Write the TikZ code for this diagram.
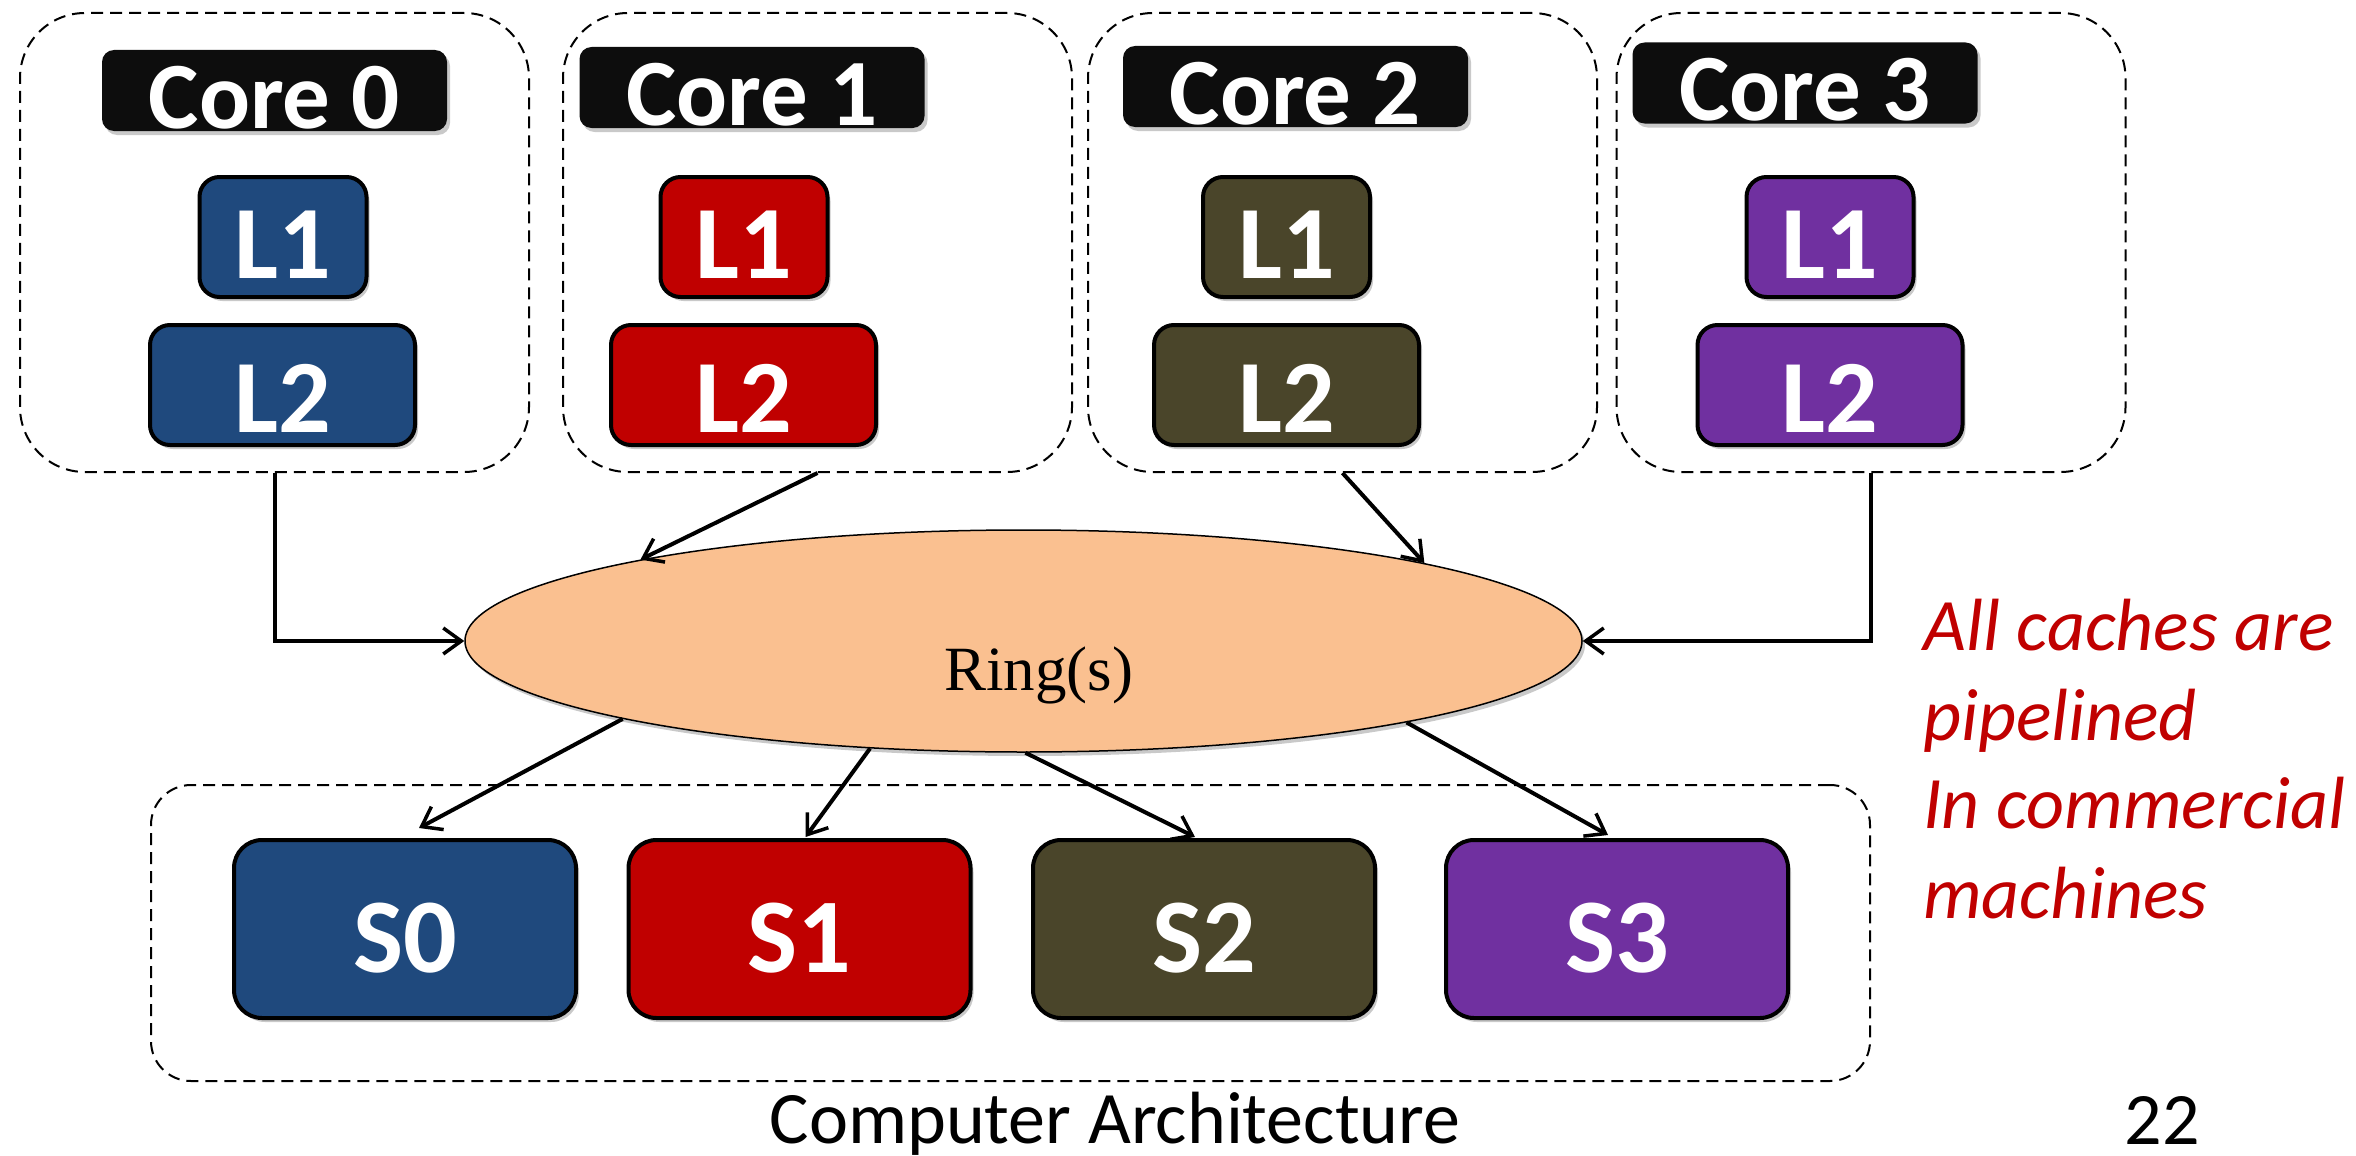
\documentclass[tikz,border=0pt]{standalone}
\usepackage{fontspec}
\setmainfont{Carlito}
\newfontfamily\ringfamily{Liberation Serif}
\usetikzlibrary{arrows.meta,shapes.geometric,shadows}
\definecolor{cblue}{HTML}{1F497D}
\definecolor{cred}{HTML}{C00000}
\definecolor{colive}{HTML}{4A452A}
\definecolor{cpurple}{HTML}{7030A0}
\definecolor{cblack}{HTML}{0D0D0D}
\definecolor{cring}{HTML}{FAC090}
\definecolor{cnote}{HTML}{C00000}
\begin{document}
\begin{tikzpicture}[x=1pt,y=-1pt,
  shad/.style={drop shadow={shadow xshift=3pt,shadow yshift=-4pt,opacity=0.3,fill=black!70}},
  corebox/.style={draw,line width=2pt,dash pattern=on 12pt off 7pt,rounded corners=65pt,
    minimum width=509pt,minimum height=459pt,inner sep=0pt},
  corelabel/.style={shad,fill=cblack,rounded corners=12pt,minimum width=345pt,minimum height=81pt,
    inner sep=0pt,text=white,font=\fontsize{95pt}{100pt}\selectfont\bfseries,
    text height=78pt,text depth=3pt},
  lonebox/.style={shad,draw=black,line width=4pt,rounded corners=20pt,minimum width=167pt,
    minimum height=120pt,inner sep=0pt,text=white,font=\fontsize{104pt}{110pt}\selectfont\bfseries,
    text height=101pt,text depth=19pt},
  ltwobox/.style={shad,draw=black,line width=4pt,rounded corners=20pt,minimum width=265pt,
    minimum height=120pt,inner sep=0pt,text=white,font=\fontsize{104pt}{110pt}\selectfont\bfseries,
    text height=107pt,text depth=13pt},
  slicebox/.style={shad,draw=black,line width=4pt,rounded corners=28pt,minimum width=342pt,
    minimum height=178pt,inner sep=0pt,text=white,font=\fontsize{106pt}{112pt}\selectfont\bfseries,
    text height=132pt,text depth=46pt},
  ringnode/.style={shad,ellipse,draw=black,line width=1.5pt,fill=cring,minimum width=1117pt,
    minimum height=222pt,inner sep=0pt,font=\ringfamily\fontsize{63pt}{70pt}\selectfont,
    text height=98pt,text depth=0pt},
  arr/.style={line width=4pt,-{Straight Barb[length=18pt,width=26pt,line width=3.5pt]}},
  note/.style={anchor=base west,inner sep=0pt,text=cnote,font=\fontsize{74pt}{89pt}\selectfont\itshape},
  foot/.style={anchor=base,inner sep=0pt,font=\fontsize{74pt}{80pt}\selectfont}
]
\useasboundingbox (0,0) rectangle (2356,1156);

% core groups
\node[corebox] (c0) at (274.5,242.5) {};
\node[corebox] (c1) at (817.5,242.5) {};
\node[corebox] (c2) at (1342.5,242.5) {};
\node[corebox] (c3) at (1871,242.5) {};

\node[corelabel] (lab0) at (274.5,90.5) {Core 0};
\node[corelabel] (lab1) at (752,87.5) {Core 1};
\node[corelabel] (lab2) at (1295.5,86.5) {Core 2};
\node[corelabel] (lab3) at (1805,83) {Core 3};

\node[lonebox,fill=cblue] (a0) at (283,237) {L1};
\node[lonebox,fill=cred] (a1) at (744,237) {L1};
\node[lonebox,fill=colive] (a2) at (1286.5,237) {L1};
\node[lonebox,fill=cpurple] (a3) at (1830,237) {L1};

\node[ltwobox,fill=cblue] (b0) at (282.5,385) {L2};
\node[ltwobox,fill=cred] (b1) at (743.5,385) {L2};
\node[ltwobox,fill=colive] (b2) at (1286.5,385) {L2};
\node[ltwobox,fill=cpurple] (b3) at (1830,385) {L2};

% slices group
\node[draw,line width=2pt,dash pattern=on 12pt off 7pt,rounded corners=40pt,
  minimum width=1719pt,minimum height=296pt,inner sep=0pt] (sb) at (1010.5,933) {};
\node[slicebox,fill=cblue] (s0) at (405,929) {S0};
\node[slicebox,fill=cred] (s1) at (799.5,929) {S1};
\node[slicebox,fill=colive] (s2) at (1204,929) {S2};
\node[slicebox,fill=cpurple] (s3) at (1617,929) {S3};

% ring
\node[ringnode] (ring) at (1023.5,641) {\hspace*{30pt}Ring(s)};

% connectors
\draw[arr] (c0.south) |- (ring.west);
\draw[arr] (c3.south) |- (ring.east);
\draw[arr] (c1.south) -- (ring.168.6);
\draw[arr] (c2.south) -- (ring.11.3);
\draw[arr] (ring.191.3) -- ([xshift=14pt,yshift=10pt]s0.north);
\draw[arr] (ring.215.2) -- ([xshift=6pt,yshift=1pt]s1.north);
\draw[arr] (ring.271) -- ([xshift=-9pt,yshift=1pt]s2.north);
\draw[arr] (ring.348.6) -- ([xshift=-9pt,yshift=3pt]s3.north);

% notes
\node[note] (n1) at (1923,650) {All caches are};
\node[note] (n2) at (1923,740) {pipelined};
\node[note] (n3) at (1923,828) {In commercial};
\node[note] (n4) at (1923,918) {machines};

\node[foot] (title) at (1115,1143) {Computer Architecture};
\node[foot] (page) at (2162,1144) {22};
\end{tikzpicture}
\end{document}
